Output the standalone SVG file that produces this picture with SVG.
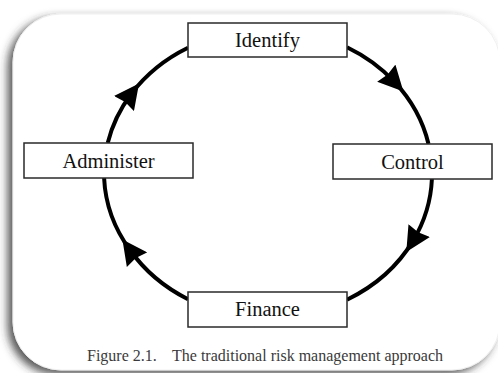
<svg xmlns="http://www.w3.org/2000/svg" width="498" height="373" viewBox="0 0 498 373">
  <defs>
    <filter id="shadow" x="-10%" y="-10%" width="120%" height="120%">
      <feDropShadow dx="-5" dy="4" stdDeviation="4" flood-color="#333" flood-opacity="0.8"/>
    </filter>
    <marker id="arrow" markerUnits="userSpaceOnUse" viewBox="0 0 25 25" markerWidth="25" markerHeight="25" refX="12" refY="12.5" orient="auto">
      <path d="M0,0 L25,12.5 L0,25 L2,12.5 Z" fill="#000"/>
    </marker>
    <style>
      .box { fill: #fff; stroke: #2a2a2a; stroke-width: 1.5; }
      .label { font-family: "Liberation Serif", "Times New Roman", serif; font-size: 20.5px; fill: #111; text-anchor: middle; }
      .conn { fill: none; stroke: #000; stroke-width: 4; marker-mid: url(#arrow); }
      .caption { font-family: "Liberation Serif", "Times New Roman", serif; font-size: 16px; fill: #3a3a3a; }
    </style>
  </defs>
  <rect width="498" height="373" fill="#fff"/>
  <rect id="frame" x="13" y="14" width="487" height="356" rx="48" ry="48" fill="#fff" stroke="#f0f0f0" stroke-width="1" filter="url(#shadow)"/>

  <g id="connectors">
    <path class="conn" d="M107.7,143 A164,144 0 0 1 131.2,94 A164,144 0 0 1 188,47.8"/>
    <path class="conn" d="M347,47.3 A164,144 0 0 1 394.5,81.9 A164,144 0 0 1 428.5,144"/>
    <path class="conn" d="M431.9,179 A164,144 0 0 1 413,240.9 A164,144 0 0 1 347,299.7"/>
    <path class="conn" d="M188,299.2 A164,144 0 0 1 130,250 A164,144 0 0 1 104.1,178"/>
  </g>

  <g id="identify">
    <rect class="box" x="188" y="23" width="159" height="34"/>
    <text class="label" x="267.5" y="46.7">Identify</text>
  </g>
  <g id="administer">
    <rect class="box" x="24" y="143" width="169" height="35"/>
    <text class="label" x="108.5" y="167.7">Administer</text>
  </g>
  <g id="control">
    <rect class="box" x="333" y="144" width="159" height="35"/>
    <text class="label" x="412.5" y="168.5">Control</text>
  </g>
  <g id="finance">
    <rect class="box" x="188" y="292" width="159" height="35"/>
    <text class="label" x="267.5" y="316">Finance</text>
  </g>

  <text class="caption" y="360.7"><tspan x="87">Figure 2.1.</tspan><tspan x="172">The traditional risk management approach</tspan></text>
</svg>
